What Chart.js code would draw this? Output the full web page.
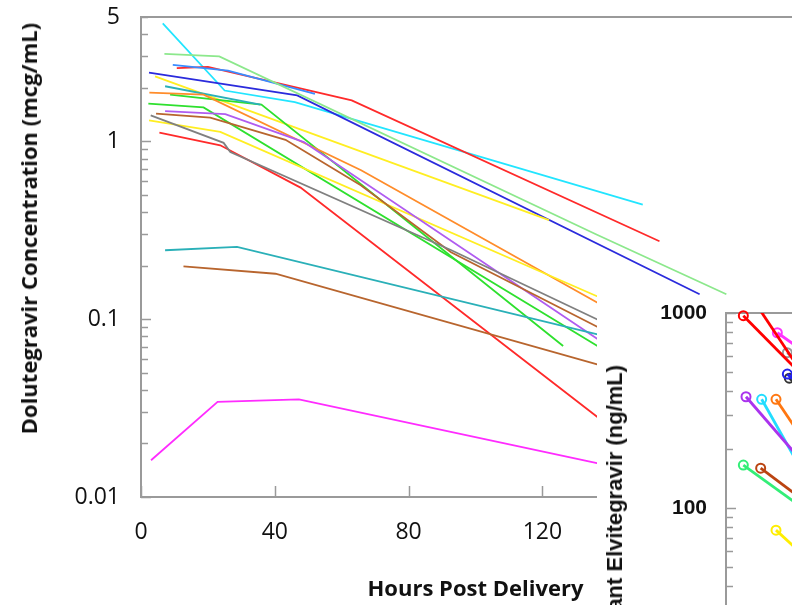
<!DOCTYPE html>
<html>
<head>
<meta charset="utf-8">
<title>Dolutegravir washout</title>
<script src="https://cdn.jsdelivr.net/npm/chart.js@4.4.1/dist/chart.umd.min.js"></script>
<style>
  body { margin: 0; background: #fff; overflow: hidden; }
  #page { position: relative; width: 792px; height: 605px; overflow: hidden; background: #fff; }
  #main { position: absolute; left: 0; top: 0; }
  .ytitle { position: absolute; writing-mode: vertical-rl; transform: rotate(180deg); white-space: nowrap; color: #111; }
  #dtgTitle { left: 17px; top: 23px; font: bold 22px "Open Sans"; line-height: 22px; }
  #inset { position: absolute; left: 597px; top: 295px; width: 200px; height: 320px; background: #fff; overflow: hidden; }
  #insetCanvas { position: absolute; left: 3px; top: 5px; }
  #evgTitle { left: 7px; top: 70px; font: bold 22px "Liberation Sans", Roboto, sans-serif; line-height: 22px; }
</style>
</head>
<body>
<div id="page">
  <canvas id="main" width="830" height="605"></canvas>
  <div id="dtgTitle" class="ytitle">Dolutegravir Concentration (mcg/mL)</div>
  <div id="inset">
    <canvas id="insetCanvas" width="400" height="410"></canvas>
    <div id="evgTitle" class="ytitle">Infant Elvitegravir (ng/mL)</div>
  </div>
</div>
<script>
// dolutegravir, [hours post delivery, mcg/mL], one array per infant
const dtgCyan     = [[6.5, 4.6], [25, 1.93], [46, 1.66], [150, 0.44]];
const dtgLtGreen  = [[7, 3.1], [23.4, 3.0], [136, 0.30], [175, 0.138]];
const dtgRedHi    = [[10.7, 2.58], [20, 2.62], [63, 1.70], [155, 0.274]];
const dtgLtBlue   = [[9.5, 2.69], [26, 2.5], [52, 1.85]];
const dtgBlue     = [[2.4, 2.43], [46.7, 1.81], [167, 0.138]];
const dtgYellowHi = [[4.2, 2.32], [122, 0.36]];
const dtgTeal     = [[7.2, 2.04], [35.7, 1.61]];
const dtgOrange   = [[2.5, 1.88], [18.7, 1.83], [65.8, 0.687], [137.7, 0.12]];
const dtgGreenA   = [[8.7, 1.83], [36, 1.61], [126.2, 0.0706]];
const dtgGreenB   = [[2.2, 1.63], [18.7, 1.55], [137.7, 0.0683]];
const dtgPurple   = [[7.2, 1.48], [25.2, 1.42], [48.7, 0.99], [137.7, 0.0746]];
const dtgBrownHi  = [[4.5, 1.43], [20.7, 1.36], [43.2, 1.02], [65.7, 0.566], [92.7, 0.238], [137.7, 0.088]];
const dtgGray     = [[2.9, 1.40], [24.7, 0.98], [26.7, 0.87], [92.8, 0.244], [137.7, 0.097]];
const dtgYellowLo = [[2.4, 1.31], [23.7, 1.13], [137.7, 0.131]];
const dtgRedLo    = [[5.5, 1.12], [23.7, 0.95], [47.7, 0.549], [137.7, 0.027]];
const dtgTealLo   = [[7.2, 0.244], [28.7, 0.255], [137.7, 0.081]];
const dtgBrownLo  = [[12.7, 0.198], [40.2, 0.18], [137.7, 0.0548]];
const dtgMagenta  = [[3, 0.0161], [22.9, 0.0343], [47.2, 0.0354], [137.7, 0.0153]];

// elvitegravir inset, [hours, ng/mL]
const evgRedA    = [[5.2, 969], [21, 516]];
const evgRedB    = [[7.8, 1194], [21, 548]];
const evgMagenta = [[15.4, 792], [30, 528]];
const evgGray    = [[18.4, 626], [30, 420]];
const evgBlue    = [[18.4, 486], [30, 330]];
const evgBlack   = [[19, 463], [30, 320]];
const evgPurple  = [[6, 372], [21, 188]];
const evgCyan    = [[10.7, 361], [21, 176]];
const evgOrange  = [[15, 361], [21, 254]];
const evgGreen   = [[5.2, 166], [21, 106]];
const evgBrown   = [[10.4, 160], [21, 117]];
const evgYellow  = [[15, 77], [21, 62]];

const hourTicks = [0, 40, 80, 120, 160, 200];
const dtgTicks = [0.01, 0.02, 0.03, 0.04, 0.05, 0.06, 0.07, 0.08, 0.09,
                  0.1, 0.2, 0.3, 0.4, 0.5, 0.6, 0.7, 0.8, 0.9, 1, 2, 3, 4, 5];
const dtgLabels = [0.01, 0.1, 1, 5];
const evgTicks = [10, 20, 30, 40, 50, 60, 70, 80, 90,
                  100, 200, 300, 400, 500, 600, 700, 800, 900, 1000];
const evgLabels = [10, 100, 1000];

const dtgSeries = [
  [dtgTealLo, '#2ab0b8'], [dtgBrownLo, '#b8652e'], [dtgMagenta, '#ff2cff'],
  [dtgGray, '#808080'], [dtgBrownHi, '#b8652e'], [dtgPurple, '#b05cf0'],
  [dtgYellowLo, '#ffee22'], [dtgRedLo, '#ff2a2a'], [dtgOrange, '#ff8c2a'],
  [dtgTeal, '#2ab0b8'], [dtgGreenB, '#2ee02e'], [dtgGreenA, '#2ee02e'],
  [dtgYellowHi, '#ffee22'], [dtgLtGreen, '#8ce88c'], [dtgBlue, '#2b2bdc'],
  [dtgLtBlue, '#3a8cff'], [dtgRedHi, '#ff2a2a'], [dtgCyan, '#22e5ff']
];
const evgSeries = [
  [evgRedA, '#ff0000', true], [evgRedB, '#ff0000', false], [evgMagenta, '#ff33ff', true],
  [evgGray, '#999999', true], [evgBlue, '#2222ee', true], [evgBlack, '#333333', true],
  [evgPurple, '#aa33ee', true], [evgCyan, '#22ddff', true], [evgOrange, '#ff7711', true],
  [evgGreen, '#33ee77', true], [evgBrown, '#bb4411', true], [evgYellow, '#ffee00', true]
];

function toXY(pts) { return pts.map(p => ({ x: p[0], y: p[1] })); }

// keep the plot box where it is, whatever the edge labels need
function fixBox(s, w, h) {
  if (w !== null) s.width = w;
  if (h !== null) s.height = h;
  s.paddingTop = 0; s.paddingBottom = 0; s.paddingLeft = 0; s.paddingRight = 0;
}

// axis frame with ticks pointing into the plot
function framePlugin(majors, xTickLen) {
  return {
    id: 'frame',
    beforeDatasetsDraw(chart) {
      const { ctx, chartArea: a, scales } = chart;
      ctx.save();
      ctx.strokeStyle = '#9a9a9a';
      ctx.lineWidth = 2;
      ctx.beginPath();
      ctx.moveTo(a.right, a.top); ctx.lineTo(a.left, a.top);
      ctx.lineTo(a.left, a.bottom); ctx.lineTo(a.right, a.bottom);
      ctx.stroke();
      ctx.lineWidth = 1.5;
      ctx.beginPath();
      scales.y.ticks.forEach(t => {
        const py = Math.round(scales.y.getPixelForValue(t.value)) + 0.5;
        const len = majors.includes(t.value) ? 10 : 7;
        ctx.moveTo(a.left, py); ctx.lineTo(a.left + len, py);
      });
      if (xTickLen) {
        scales.x.ticks.forEach(t => {
          const px = Math.round(scales.x.getPixelForValue(t.value)) + 0.5;
          ctx.moveTo(px, a.bottom); ctx.lineTo(px, a.bottom - xTickLen);
        });
      }
      ctx.stroke();
      ctx.restore();
    }
  };
}

new Chart(document.getElementById('main'), {
  type: 'line',
  data: {
    datasets: dtgSeries.map(s => ({
      data: toXY(s[0]), borderColor: s[1], borderWidth: 1.8,
      pointRadius: 0, fill: false, tension: 0
    }))
  },
  options: {
    responsive: false, animation: false,
    layout: { padding: { top: 17, right: 20, left: 0, bottom: 0 } },
    plugins: { legend: { display: false }, tooltip: { enabled: false } },
    scales: {
      x: {
        type: 'linear', min: 0, max: 200,
        grid: { display: false, drawTicks: false }, border: { display: false },
        afterBuildTicks: s => { s.ticks = hourTicks.map(v => ({ value: v })); },
        afterFit: s => fixBox(s, null, 108),
        ticks: { padding: 22, color: '#111', autoSkip: false, maxRotation: 0,
                 font: { family: "'Open Sans'", size: 23 } },
        title: { display: true, text: 'Hours Post Delivery', color: '#111',
                 font: { family: "'Open Sans'", size: 22, weight: 'bold' },
                 padding: { top: 0, bottom: 2 } }
      },
      y: {
        type: 'logarithmic', min: 0.01, max: 5,
        grid: { display: false, drawTicks: false }, border: { display: false },
        afterBuildTicks: s => { s.ticks = dtgTicks.map(v => ({ value: v })); },
        afterFit: s => fixBox(s, 141, null),
        ticks: { padding: 21, color: '#111', autoSkip: false,
                 font: { family: "'Open Sans'", size: 23 },
                 callback: v => dtgLabels.includes(v) ? String(v) : '' }
      }
    }
  },
  plugins: [framePlugin([0.01, 0.1, 1], 11)]
});

new Chart(document.getElementById('insetCanvas'), {
  type: 'line',
  data: {
    datasets: evgSeries.map(s => ({
      data: toXY(s[0]), borderColor: s[1], borderWidth: 2.8,
      pointRadius: s[2] ? [4.5, 0] : 0, pointBorderWidth: 2,
      pointBorderColor: s[1], pointBackgroundColor: 'rgba(255,255,255,0)',
      fill: false, tension: 0, clip: s[2] ? 8 : 0
    }))
  },
  options: {
    responsive: false, animation: false,
    layout: { padding: { top: 13, right: 74, left: 0, bottom: 7 } },
    plugins: { legend: { display: false }, tooltip: { enabled: false } },
    scales: {
      x: { type: 'linear', min: 0, max: 60, display: false },
      y: {
        type: 'logarithmic', min: 10, max: 1000,
        grid: { display: false, drawTicks: false }, border: { display: false },
        afterBuildTicks: s => { s.ticks = evgTicks.map(v => ({ value: v })); },
        afterFit: s => fixBox(s, 126, null),
        ticks: { padding: 19, color: '#111', autoSkip: false,
                 font: { family: "'Liberation Sans', Roboto, sans-serif", size: 21, weight: 'bold' },
                 callback: v => evgLabels.includes(v) ? String(v) : '' }
      }
    }
  },
  plugins: [framePlugin([10, 100, 1000], 0)]
});
</script>
</body>
</html>
